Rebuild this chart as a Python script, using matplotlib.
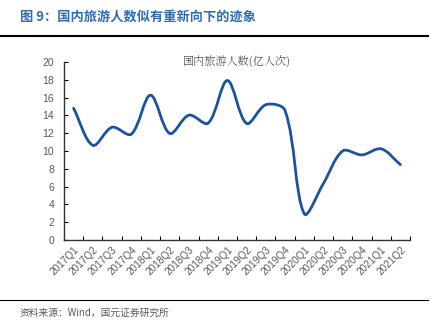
import numpy as np
import matplotlib.pyplot as plt
from matplotlib.path import Path
from matplotlib.patches import PathPatch

plt.rcParams['font.family'] = ['Noto Sans CJK SC', 'DejaVu Sans']

quarters = ['2017Q1', '2017Q2', '2017Q3', '2017Q4', '2018Q1', '2018Q2',
            '2018Q3', '2018Q4', '2019Q1', '2019Q2', '2019Q3', '2019Q4',
            '2020Q1', '2020Q2', '2020Q3', '2020Q4', '2021Q1', '2021Q2']
tourists = [14.80, 10.64, 12.67, 11.89, 16.27, 11.97, 14.03, 13.13, 17.92,
            13.10, 15.20, 14.55, 2.95, 6.37, 10.01, 9.56, 10.24, 8.47]

line_color = '#1a53a0'
grey = '#595959'


def smooth_path(xs, ys, sx, sy):
    # smoothed line: cubic bezier segments through every point,
    # tangents weighted by segment length (in screen units) to limit overshoot
    pts = np.column_stack([xs, ys])
    scr = pts * [sx, sy]
    n = len(pts)
    d = np.hypot(*np.diff(scr, axis=0).T)
    tang = np.zeros_like(pts)
    for i in range(n):
        a = max(i - 1, 0)
        b = min(i + 1, n - 1)
        span = sum(d[a:b])
        tang[i] = (pts[b] - pts[a]) / span
    verts = [pts[0]]
    codes = [Path.MOVETO]
    for i in range(n - 1):
        c1 = pts[i] + tang[i] * d[i] / 3
        c2 = pts[i + 1] - tang[i + 1] * d[i] / 3
        verts += [c1, c2, pts[i + 1]]
        codes += [Path.CURVE4] * 3
    return Path(verts, codes)


fig = plt.figure(figsize=(4.39, 3.29), dpi=100)
ax = fig.add_axes([64 / 439, 1 - 240 / 329, 346 / 439, 178 / 329])

x = np.arange(len(quarters)) + 0.5
patch = PathPatch(smooth_path(x, tourists, 346 / 18, 178 / 20), facecolor='none',
                  edgecolor=line_color, lw=2.0, capstyle='round')
ax.add_patch(patch)

ax.set_xlim(0, len(quarters))
ax.set_ylim(0, 20)
ax.set_yticks(range(0, 21, 2))
ax.set_xticks(range(len(quarters) + 1), minor=False)
ax.set_xticklabels([])
ax.set_xticks(x, minor=True)
ax.set_xticklabels(quarters, minor=True, rotation=45, ha='right',
                   rotation_mode='anchor', fontsize=7.2, color=grey,
                   family=['Liberation Sans'])
ax.tick_params(axis='x', which='minor', length=0, pad=3)
ax.tick_params(axis='x', which='major', direction='in', length=3, width=0.8)
ax.tick_params(axis='y', direction='in', length=3, width=0.8,
               labelsize=7.5, labelcolor=grey, pad=7)
for lab in ax.get_yticklabels():
    lab.set_family('Liberation Sans')
for s in ['top', 'right']:
    ax.spines[s].set_visible(False)
for s in ['left', 'bottom']:
    ax.spines[s].set_linewidth(1.0)
    ax.spines[s].set_color('#333333')

ax.text(0.5, 1.0, '国内旅游人数(亿人次)', transform=ax.transAxes,
        ha='center', va='center', fontsize=8, color=grey,
        family=['Noto Serif CJK SC', 'Noto Sans CJK SC', 'DejaVu Sans'])

fig.text(20 / 439, 1 - 17 / 329, '图 9：国内旅游人数似有重新向下的迹象',
         fontsize=9.5, color='#2e6db4', fontweight='bold', va='center')
fig.add_artist(plt.Line2D([0, 428 / 439], [1 - 36 / 329] * 2, color='black', lw=1.5))
fig.add_artist(plt.Line2D([0, 428 / 439], [1 - 300 / 329] * 2, color='black', lw=0.8))
fig.text(20 / 439, 1 - 313 / 329, '资料来源：Wind，国元证券研究所',
         fontsize=7, color=grey, va='center')

fig.savefig('out.png', dpi=100)
